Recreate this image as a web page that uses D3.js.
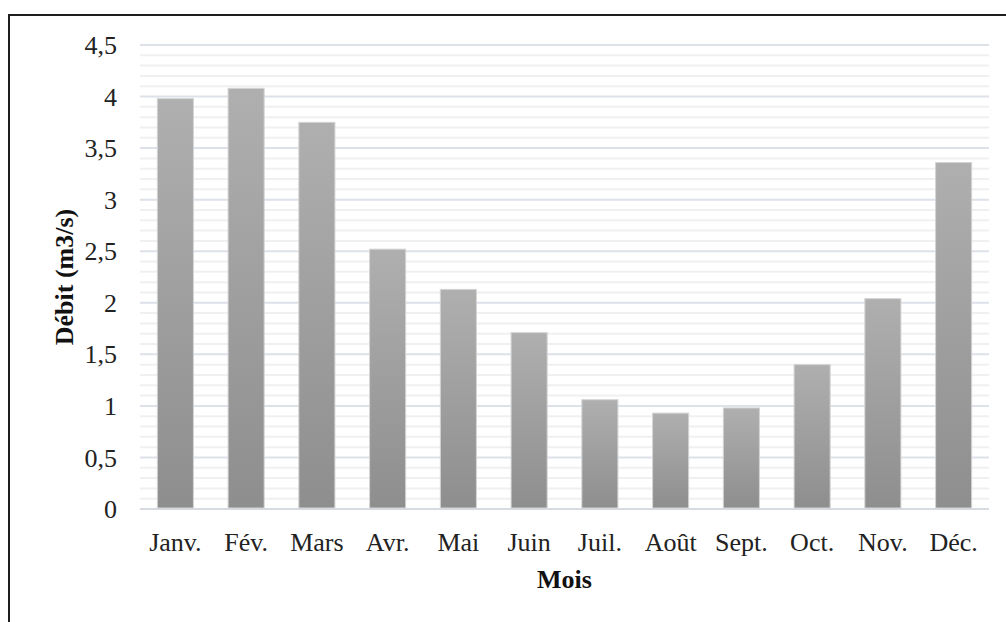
<!DOCTYPE html>
<html><head><meta charset="utf-8">
<script src="https://cdn.jsdelivr.net/npm/d3@7"></script>
<style>body{margin:0;background:#fff}svg{display:block}</style>
</head><body>
<svg id="c" width="1006" height="622"></svg>
<script>
const months = ["Janv.","Fév.","Mars","Avr.","Mai","Juin","Juil.","Août","Sept.","Oct.","Nov.","Déc."];
const debit = [3.98, 4.08, 3.75, 2.52, 2.13, 1.71, 1.06, 0.93, 0.98, 1.40, 2.04, 3.36];
const majorTicks = [0,0.5,1,1.5,2,2.5,3,3.5,4,4.5];
const minorTicks = d3.range(0,46).map(i=>i/10).filter(v=>Math.round(v*10)%5!==0);
const yTitle = "Débit (m3/s)";
const xTitle = "Mois";

const svg = d3.select("#c");
const font = "'Liberation Serif','Times New Roman',serif";
const L=140, R=989, T=45, B=509;
const x = d3.scaleBand().domain(months).range([L,R]).paddingInner(0.49).paddingOuter(0.245);
const y = d3.scaleLinear().domain([0,4.5]).range([B,T]);

const defs = svg.append("defs");
const g = defs.append("linearGradient").attr("id","bg").attr("x1",0).attr("x2",0).attr("y1",0).attr("y2",1);
g.append("stop").attr("offset","0%").attr("stop-color","#afafaf");
g.append("stop").attr("offset","100%").attr("stop-color","#8e8e8e");

// border
svg.append("rect").attr("x",9).attr("y",15).attr("width",1010).attr("height",640)
  .attr("fill","none").attr("stroke","#1e1e1e").attr("stroke-width",2);

// minor gridlines
svg.append("g").selectAll("line").data(minorTicks).join("line")
  .attr("x1",L).attr("x2",R).attr("y1",d=>y(d)).attr("y2",d=>y(d))
  .attr("stroke","#f0f0f0").attr("stroke-width",2);
// major gridlines
svg.append("g").selectAll("line").data(majorTicks).join("line")
  .attr("x1",L).attr("x2",R).attr("y1",d=>y(d)).attr("y2",d=>y(d))
  .attr("stroke",d=>d===0?"#d6dbe2":"#dde1e8").attr("stroke-width",2);

// bars
svg.append("g").selectAll("rect").data(debit).join("rect")
  .attr("x",(d,i)=>x(months[i])).attr("width",x.bandwidth())
  .attr("y",d=>y(d)).attr("height",d=>y(0)-y(d)-1)
  .attr("fill","url(#bg)").attr("stroke","#d4d4d4").attr("stroke-width",1);

// y axis
const ya = svg.append("g").attr("transform",`translate(${L-23},0)`)
  .call(d3.axisLeft(y).tickValues(majorTicks).tickSize(0).tickPadding(0)
    .tickFormat(d=>String(d).replace(".",",")));
ya.select(".domain").remove();
ya.selectAll("text").attr("font-family",font).attr("font-size",26).attr("fill","#222").attr("dy","0.33em");

// x axis
const xa = svg.append("g").attr("transform",`translate(0,${B})`)
  .call(d3.axisBottom(x).tickSize(0).tickPadding(0));
xa.select(".domain").remove();
xa.selectAll("text").attr("font-family",font).attr("font-size",26).attr("fill","#222").attr("dy",null).attr("y",42);

// titles
svg.append("text").attr("x",(L+R)/2).attr("y",588).attr("text-anchor","middle")
  .attr("font-family",font).attr("font-weight","bold").attr("font-size",26).attr("fill","#111").text(xTitle);
svg.append("text").attr("transform",`translate(73,${(T+B)/2}) rotate(-90)`).attr("text-anchor","middle")
  .attr("font-family",font).attr("font-weight","bold").attr("font-size",26).attr("fill","#111").text(yTitle);
</script>
</body></html>
